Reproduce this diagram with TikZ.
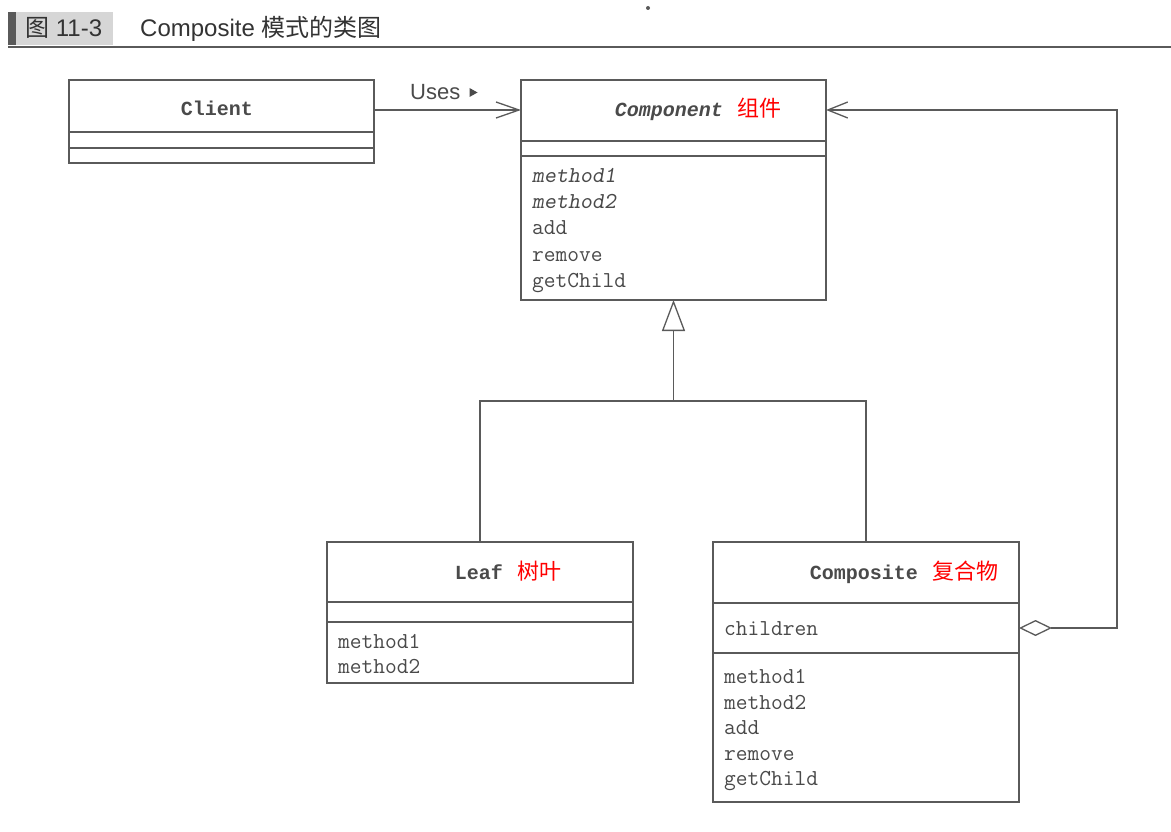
\documentclass[tikz,border=0pt]{standalone}
\usepackage{fontspec}
\setmainfont{Liberation Sans}
\newfontfamily\cjk{Noto Sans CJK SC}
\newfontfamily\titlefont{Liberation Mono}
\usetikzlibrary{arrows.meta}
\definecolor{ln}{HTML}{5A5A5A}
\definecolor{tx}{HTML}{4A4A4A}
\definecolor{cnred}{HTML}{FF0000}
\definecolor{hdbg}{HTML}{D6D6D6}
\begin{document}
\begin{tikzpicture}[x=1pt,y=-1pt,
  umlbox/.style={draw=ln, line width=1.3pt, anchor=north west, inner sep=0pt, outer sep=0pt},
  sepline/.style={draw=ln, line width=1.3pt},
  conn/.style={draw=ln, line width=1.3pt},
  ctitle/.style={font=\titlefont\bfseries\fontsize{20}{24}\selectfont, text=tx, anchor=base, inner sep=0pt},
  cn/.style={font=\cjk\fontsize{22}{26}\selectfont, text=cnred, anchor=base west, inner sep=0pt},
  meth/.style={font=\ttfamily\fontsize{22.8}{26}\selectfont, text=tx, anchor=base west, inner sep=0pt},
  hdtext/.style={font=\fontsize{24}{28}\selectfont, text=black!80, anchor=base west, inner sep=0pt}
]
\useasboundingbox (0,0) rectangle (1171,832);
\fill[white] (0,0) rectangle (1171,832);

% header
\node[fill=hdbg, anchor=north west, minimum width=99pt, minimum height=33pt, inner sep=0pt] (hdbox) at (14,12) {};
\node[fill=ln, anchor=north west, minimum width=8pt, minimum height=33pt, inner sep=0pt] (hdbar) at (8,12) {};
\node[hdtext] (hdnum) at (25,37) {{\cjk 图} 11-3};
\node[hdtext] (hdtitle) at (140,37) {Composite {\cjk 模式的类图}};
\draw[ln, line width=1.5pt] (8,47) -- (1171,47);
\fill[ln] (648,8) circle (2pt);

% Client
\node[umlbox, minimum width=305pt, minimum height=83pt] (client) at (69,80) {};
\draw[sepline] ([yshift=-52pt]client.north west) -- ([yshift=-52pt]client.north east);
\draw[sepline] ([yshift=-68pt]client.north west) -- ([yshift=-68pt]client.north east);
\node[ctitle] (clientname) at (217,116) {Client};

% Component
\node[umlbox, minimum width=305pt, minimum height=220pt] (component) at (521,80) {};
\draw[sepline] ([yshift=-61pt]component.north west) -- ([yshift=-61pt]component.north east);
\draw[sepline] ([yshift=-76pt]component.north west) -- ([yshift=-76pt]component.north east);
\node[ctitle] (compname) at (669,117) {\itshape Component};
\node[cn, xshift=14pt] (compcn) at (compname.base east) {组件};
\node[meth] (cm1) at (532,183) {\slshape method1};
\node[meth] (cm2) at (532,209) {\slshape method2};
\node[meth] (cm3) at (532,235) {add};
\node[meth] (cm4) at (532,261) {remove};
\node[meth] (cm5) at (532,287) {getChild};

% Leaf
\node[umlbox, minimum width=306pt, minimum height=141pt] (leaf) at (327,542) {};
\draw[sepline] ([yshift=-60pt]leaf.north west) -- ([yshift=-60pt]leaf.north east);
\draw[sepline] ([yshift=-80pt]leaf.north west) -- ([yshift=-80pt]leaf.north east);
\node[ctitle] (leafname) at (479,579) {Leaf};
\node[cn, xshift=14pt] (leafcn) at (leafname.base east) {树叶};
\node[meth] (lm1) at (338,648) {method1};
\node[meth] (lm2) at (338,673) {method2};

% Composite
\node[umlbox, minimum width=306pt, minimum height=260pt] (composite) at (713,542) {};
\draw[sepline] ([yshift=-61pt]composite.north west) -- ([yshift=-61pt]composite.north east);
\draw[sepline] ([yshift=-111pt]composite.north west) -- ([yshift=-111pt]composite.north east);
\node[ctitle] (cpsname) at (864,579) {Composite};
\node[cn, xshift=14pt] (cpscn) at (cpsname.base east) {复合物};
\node[meth] (cattr) at (724,635) {children};
\node[meth] (pm1) at (724,683) {method1};
\node[meth] (pm2) at (724,709) {method2};
\node[meth] (pm3) at (724,734) {add};
\node[meth] (pm4) at (724,760) {remove};
\node[meth] (pm5) at (724,785) {getChild};

% Uses association
\draw[conn, -{Straight Barb[length=23pt,width=16pt]}] ([yshift=-30pt]client.north east) -- ([yshift=-30pt]component.north west);
\node[font=\fontsize{22}{26}\selectfont, text=tx, anchor=base west, inner sep=0pt] (uses) at (410,100) {Uses};
\fill[tx] ([xshift=9pt,yshift=12pt]uses.base east) -- ([xshift=17pt,yshift=7.5pt]uses.base east) -- ([xshift=9pt,yshift=3pt]uses.base east) -- cycle;

% Inheritance
\path (component.south) ++(0,101) coordinate (jn);
\draw[conn, -{Triangle[open,length=31pt,width=23pt]}] (jn) -- (component.south);
\draw[conn] (leaf.north) |- (jn) -| (composite.north);

% Aggregation
\coordinate (agg) at (1117,628);
\draw[conn, {Diamond[open,length=33pt,width=16pt]}-{Straight Barb[length=20pt,width=16pt]}] ([yshift=-86pt]composite.north east) -- (agg) |- ([yshift=-30pt]component.north east);
\end{tikzpicture}
\end{document}
